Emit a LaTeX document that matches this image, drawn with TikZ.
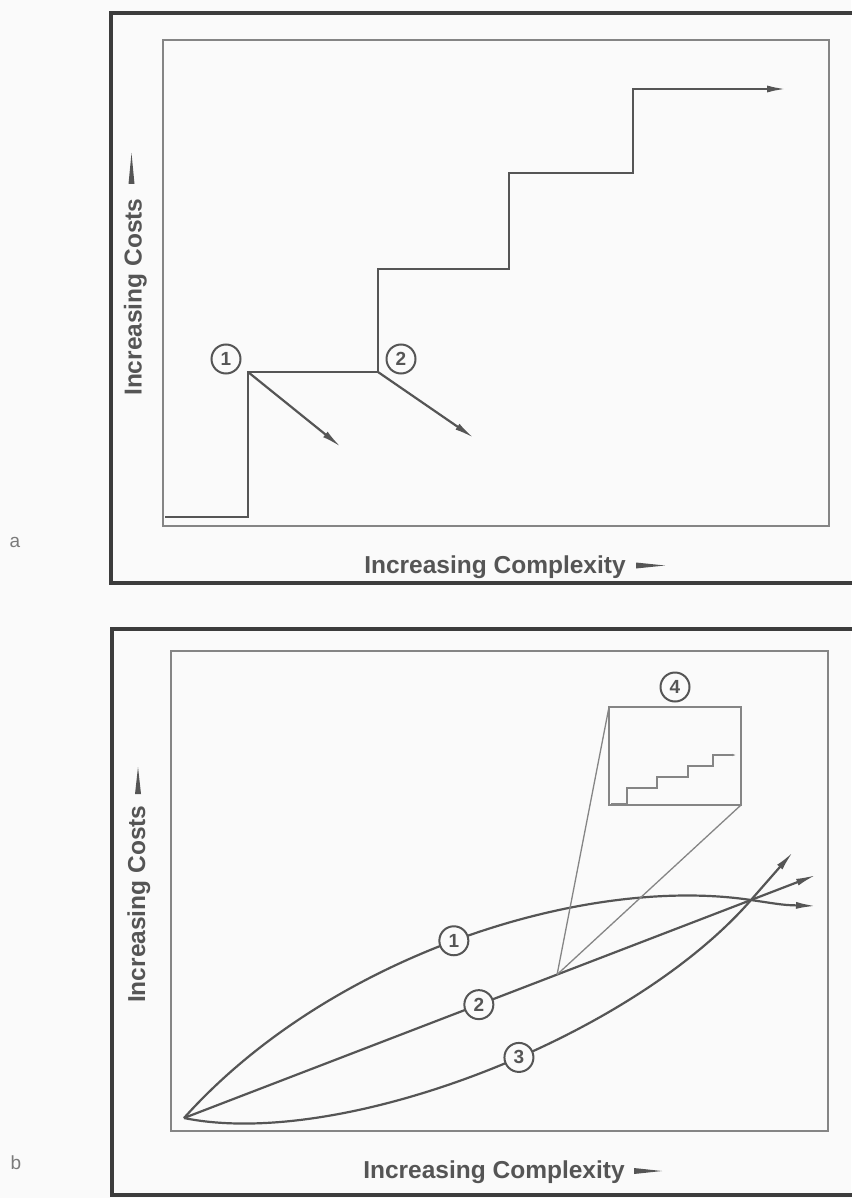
\documentclass[tikz,border=0pt]{standalone}
\usepackage{fontspec}
\setmainfont{Liberation Sans}
\usetikzlibrary{arrows.meta,calc}
\definecolor{ink}{HTML}{555555}
\definecolor{framec}{HTML}{3c3c3c}
\definecolor{thinc}{HTML}{858585}
\definecolor{paper}{HTML}{FAFAFA}
\definecolor{labc}{HTML}{7a7a7a}
\begin{document}
\begin{tikzpicture}[x=1pt,y=-1pt,
  outerframe/.style={draw=framec, line width=3.5pt},
  innerframe/.style={draw=thinc, line width=1.6pt},
  stair/.style={draw=ink, line width=2.5pt, line join=miter},
  curve/.style={draw=ink, line width=2.2pt},
  zoomline/.style={draw=thinc, line width=1.3pt},
  ministair/.style={draw=thinc, line width=1.2pt},
  num/.style={circle, draw=ink, line width=2pt, fill=paper, inner sep=0pt,
    minimum size=29pt, text=ink, font=\bfseries\fontsize{19}{19}\selectfont},
  axislabel/.style={inner sep=0pt, text=ink, font=\bfseries\fontsize{24.5}{24.5}\selectfont},
  panellabel/.style={inner sep=0pt, text=labc, font=\fontsize{19}{19}\selectfont},
  tipbig/.style={-{Latex[length=20pt,width=7pt]}},
  tipmini/.style={-{Latex[length=5pt,width=2.5pt]}},
  wedge/.style={fill=ink, draw=none}]
\useasboundingbox (0,0) rectangle (851,1198);
\fill[paper] (0,0) rectangle (851,1198);

% ================= panel a =================
\draw[outerframe] (111,13) rectangle (854,583);
\draw[innerframe] (163,40) rectangle (829,526);
\node[panellabel] (la) at (15,542) {a};

\coordinate (s0) at (165,517);
\coordinate (s1) at (248,517);
\coordinate (s2) at (248,372);
\coordinate (s3) at (378,372);
\coordinate (s4) at (378,269);
\coordinate (s5) at (509,269);
\coordinate (s6) at (509,173);
\coordinate (s7) at (633,173);
\coordinate (s8) at (633,89);
\coordinate (s9) at (787,89);
\draw[stair,tipbig] (s0) -- (s1) -- (s2) -- (s3) -- (s4) -- (s5) -- (s6) -- (s7) -- (s8) -- (s9);

\coordinate (d1) at (341,447);
\coordinate (d2) at (474,438);
\draw[curve,tipbig] (s2) -- (d1);
\draw[curve,tipbig] (s3) -- (d2);

\node[num] (a1) at (226,359) {1};
\node[num] (a2) at (401,359) {2};

\node[axislabel, anchor=base] (ax) at (495,573.5) {Increasing Complexity};
\fill[wedge] (636,562.5) -- (665,565.5) -- (636,568.5) -- cycle;
\node[axislabel, rotate=90, anchor=base west] (ay) at (141.5,396) {Increasing Costs};
\fill[wedge] (128.5,184) -- (131.5,153) -- (134.5,184) -- cycle;

% ================= panel b =================
\draw[outerframe] (112,629) rectangle (854,1195);
\draw[innerframe] (171,651) rectangle (828,1131);
\node[panellabel] (lb) at (16,1163) {b};

\coordinate (o) at (184,1118);
\coordinate (conv) at (751,900);
\coordinate (e1) at (816,906);
\coordinate (e2) at (816,875);
\coordinate (e3) at (793,852);

\draw[curve,tipbig] (o) .. controls (330,955) and (585,875) .. (conv)
   node[num,pos=0.49] (b1) {1}
   .. controls (784,905) .. (e1);
\draw[curve,tipbig] (o) -- (conv) node[num,pos=0.52] (b2) {2} -- (e2);
\draw[curve,tipbig] (o) .. controls (340,1150) and (630,1039) .. (conv)
   node[num,pos=0.56] (b3) {3}
   -- (e3);

\coordinate (apex) at ($(o)!0.658!(conv)$);
\coordinate (btl) at (609,707);
\coordinate (bbr) at (741,805);
\draw[innerframe] (btl) rectangle (bbr);
\draw[zoomline] (apex) -- (btl);
\draw[zoomline] (apex) -- (bbr);
\node[num] (b4) at (675,687) {4};

\coordinate (m0) at (611,804);
\coordinate (m1) at (627,804);
\coordinate (m2) at (627,788);
\coordinate (m3) at (657,788);
\coordinate (m4) at (657,777);
\coordinate (m5) at (688,777);
\coordinate (m6) at (688,766);
\coordinate (m7) at (713,766);
\coordinate (m8) at (713,755);
\coordinate (m9) at (737,755);
\draw[ministair,tipmini] (m0) -- (m1) -- (m2) -- (m3) -- (m4) -- (m5) -- (m6) -- (m7) -- (m8) -- (m9);

\node[axislabel, anchor=base] (bx) at (494,1178) {Increasing Complexity};
\fill[wedge] (634,1168) -- (662,1171) -- (634,1174) -- cycle;
\node[axislabel, rotate=90, anchor=base west] (by) at (145,1003) {Increasing Costs};
\fill[wedge] (135,794) -- (138,767) -- (141,794) -- cycle;
\end{tikzpicture}
\end{document}
